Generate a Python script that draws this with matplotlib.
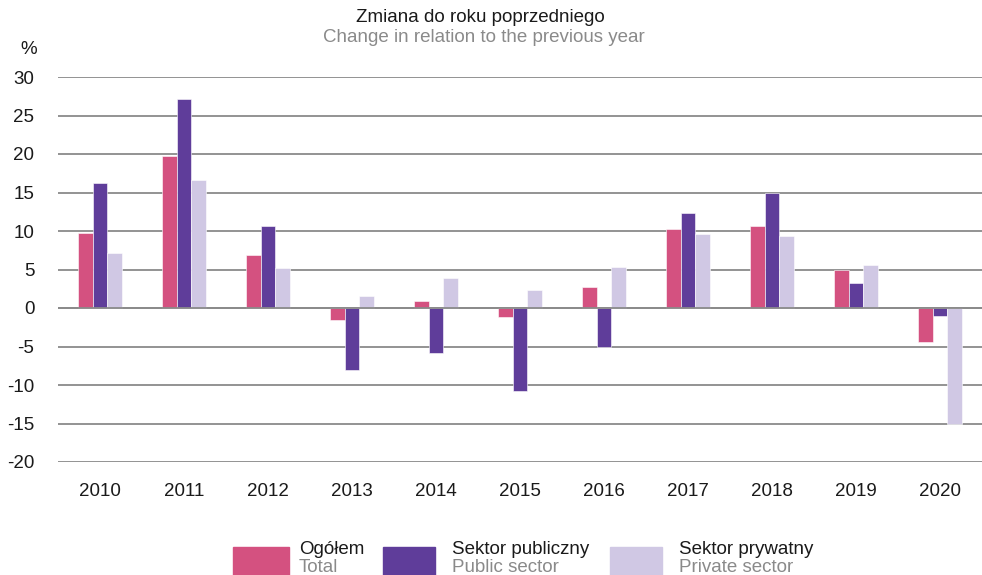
import matplotlib
matplotlib.use("Agg")
import matplotlib.pyplot as plt
import numpy as np
from matplotlib.patches import Rectangle

plt.rcParams['font.family'] = ['Liberation Sans', 'DejaVu Sans']

years = ['2010', '2011', '2012', '2013', '2014', '2015', '2016', '2017', '2018', '2019', '2020']
total = [9.7, 19.7, 6.9, -1.6, 0.9, -1.2, 2.7, 10.3, 10.7, 5.0, -4.4]
public = [16.2, 27.2, 10.6, -8.0, -5.9, -10.8, -5.0, 12.3, 14.9, 3.2, -1.1]
private = [7.2, 16.6, 5.2, 1.5, 3.9, 2.4, 5.3, 9.6, 9.3, 5.6, -15.0]

series_pl = ['Ogółem', 'Sektor publiczny', 'Sektor prywatny']
series_en = ['Total', 'Public sector', 'Private sector']
colors = ['#D45180', '#5F3D9A', '#D0C8E4']
yticks = [30, 25, 20, 15, 10, 5, 0, -5, -10, -15, -20]

FS = 13.5
W, H = 982, 575
fig = plt.figure(figsize=(W / 100, H / 100), dpi=100)
ax = fig.add_axes([58 / W, 1 - 462 / H, (982 - 58) / W, (462 - 77) / H])

x = np.arange(len(years))
bw = 0.178
for i, vals in enumerate([total, public, private]):
    ax.bar(x + (i - 1) * bw, vals, width=bw, color=colors[i],
           edgecolor='white', linewidth=0.4, zorder=3)

ax.set_xlim(-0.5, len(years) - 0.5)
ax.set_ylim(-20, 30)
ax.set_yticks(yticks)
ax.set_yticklabels([str(t) for t in yticks], fontsize=FS, color='#1a1a1a')
ax.set_xticks(x)
ax.set_xticklabels(years, fontsize=FS, color='#1a1a1a')
ax.tick_params(axis='both', length=0)
ax.tick_params(axis='y', pad=17)
ax.tick_params(axis='x', pad=15)
ax.grid(axis='y', color='#8a8a8a', linewidth=1.3, zorder=0)
for s in ax.spines.values():
    s.set_visible(False)
ax.axhline(0, color='#8a8a8a', linewidth=1.3, zorder=4)

fig.text(29 / W, 1 - 50 / H, '%', fontsize=FS, ha='center', va='center', color='#1a1a1a')
fig.text(480 / W, 1 - 18 / H, 'Zmiana do roku poprzedniego', fontsize=FS,
         ha='center', va='center', color='#1a1a1a')
fig.text(484 / W, 1 - 37 / H, 'Change in relation to the previous year', fontsize=FS,
         ha='center', va='center', color='#8a8a8a')

# legend
boxes = [(233, 289), (383, 435), (610, 662)]
text_x = [299, 452, 679]
for (x0, x1), tx, c, pl, en in zip(boxes, text_x, colors, series_pl, series_en):
    fig.patches.append(Rectangle((x0 / W, 1 - 575 / H), (x1 - x0) / W, 28 / H,
                                 transform=fig.transFigure, color=c))
    fig.text(tx / W, 1 - 550 / H, pl, fontsize=FS, ha='left', va='center', color='#1a1a1a')
    fig.text(tx / W, 1 - 567 / H, en, fontsize=FS, ha='left', va='center', color='#8a8a8a')

fig.savefig('out.png', dpi=100)
